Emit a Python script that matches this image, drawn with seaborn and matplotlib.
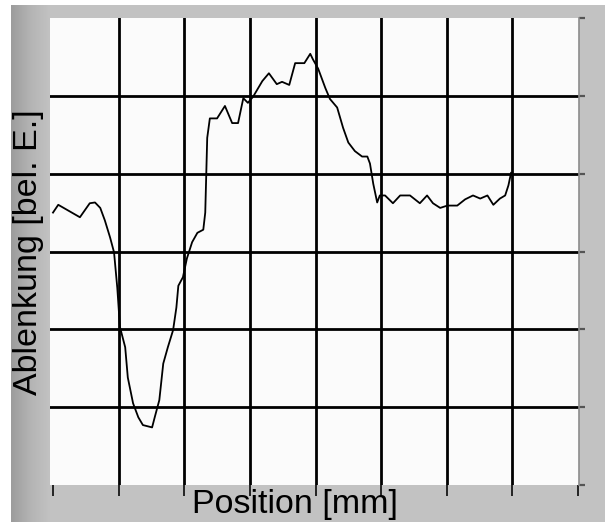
import numpy as np
import pandas as pd
import matplotlib
matplotlib.use("Agg")
import matplotlib.pyplot as plt
import seaborn as sns
from matplotlib.patches import Rectangle

# ---- data (grid units) ----
position = [0.00, 0.08, 0.41, 0.56, 0.64, 0.72, 0.79, 0.87, 0.93, 0.98,
            1.02, 1.10, 1.14, 1.22, 1.30, 1.37, 1.51, 1.55, 1.62, 1.68,
            1.75, 1.83, 1.88, 1.91, 1.98, 2.04, 2.12, 2.20, 2.29, 2.32,
            2.35, 2.39, 2.50, 2.62, 2.73, 2.82, 2.90, 2.97, 3.05, 3.19,
            3.29, 3.41, 3.49, 3.60, 3.69, 3.83, 3.92, 3.96, 4.04, 4.15,
            4.22, 4.33, 4.42, 4.50, 4.60, 4.71, 4.79, 4.83, 4.88, 4.94,
            4.98, 5.06, 5.18, 5.29, 5.44, 5.59, 5.70, 5.79, 5.90, 6.01,
            6.16, 6.28, 6.40, 6.51, 6.62, 6.71, 6.81, 6.89, 6.94, 6.98]
deflection = [3.50, 3.60, 3.44, 3.62, 3.63, 3.56, 3.40, 3.18, 2.99, 2.53,
              2.03, 1.77, 1.38, 1.05, 0.87, 0.77, 0.74, 0.87, 1.09, 1.56,
              1.77, 1.99, 2.28, 2.56, 2.67, 2.91, 3.12, 3.24, 3.28, 3.50,
              4.46, 4.71, 4.71, 4.87, 4.65, 4.65, 4.97, 4.91, 4.99, 5.19,
              5.29, 5.15, 5.18, 5.14, 5.42, 5.42, 5.54, 5.47, 5.35, 5.10,
              4.96, 4.85, 4.59, 4.40, 4.29, 4.22, 4.22, 4.13, 3.87, 3.63,
              3.72, 3.72, 3.62, 3.72, 3.72, 3.62, 3.72, 3.62, 3.56, 3.59,
              3.59, 3.67, 3.72, 3.68, 3.72, 3.60, 3.68, 3.72, 3.85, 4.01]
x_ticks = [0, 1, 2, 3, 4, 5, 6, 7, 8]
y_ticks = [0, 1, 2, 3, 4, 5, 6]
x_label = "Position [mm]"
y_label = "Ablenkung [bel. E.]"

df = pd.DataFrame({"pos": position, "val": deflection})

W, H = 605, 522
fig = plt.figure(figsize=(W / 100, H / 100), dpi=100)
fig.patch.set_facecolor("#c2c2c2")
plt.rcParams["font.family"] = ["Liberation Sans", "DejaVu Sans"]

# white outer margins (left strip and top strip)
fig.patches.append(Rectangle((0, 0), 11 / W, 1, transform=fig.transFigure,
                             facecolor="white", edgecolor="none", zorder=0))
fig.patches.append(Rectangle((0, 1 - 5 / H), 1, 5 / H, transform=fig.transFigure,
                             facecolor="white", edgecolor="none", zorder=0))
# left shaded gradient strip
gax = fig.add_axes([11 / W, 0, 39 / W, 1 - 5 / H])
grad = np.linspace(0.0, 1.0, 64)[None, :]
from matplotlib.colors import LinearSegmentedColormap
cmap = LinearSegmentedColormap.from_list("g", ["#9c9c9c", "#b4b4b4", "#c2c2c2"])
gax.imshow(grad, aspect="auto", cmap=cmap, extent=[0, 1, 0, 1])
gax.axis("off")

# main plot area
left_px, right_px, top_px, bot_px = 50, 579, 18, 485
ax = fig.add_axes([left_px / W, 1 - bot_px / H,
                   (right_px - left_px) / W, (bot_px - top_px) / H])
ax.set_facecolor("#fbfbfb")

for xv in x_ticks[1:-1]:
    ax.axvline(xv, color="black", lw=2.0, zorder=1)
for yv in y_ticks[1:-1]:
    ax.axhline(yv, color="black", lw=2.0, zorder=1)

sns.lineplot(data=df, x="pos", y="val", ax=ax, color="black", lw=1.3,
             estimator=None, sort=False, zorder=3)

ax.set_xlim(-3 / 65.6, 8 + 1 / 65.6)
ax.set_ylim(0, 6)
ax.set_xticks(x_ticks)
ax.set_yticks(y_ticks)
ax.set_xticklabels([])
ax.set_yticklabels([])
ax.tick_params(axis="x", direction="out", length=8, width=1.4, color="#222222",
               bottom=True, top=False)
ax.yaxis.tick_right()
ax.tick_params(axis="y", direction="out", length=4, width=1.6, color="#555555",
               right=True, left=False)
ax.set_xlabel("")
ax.set_ylabel("")
for s in ["top", "left", "bottom"]:
    ax.spines[s].set_visible(False)
ax.spines["right"].set_color("#8c8c8c")
ax.spines["right"].set_linewidth(1.2)

fig.text(295 / W, 1 - 504 / H, x_label, fontsize=24.5, color="black",
         ha="center", va="center", family=["Liberation Sans", "DejaVu Sans"])
fig.text(29 / W, 1 - 252 / H, y_label, fontsize=24.5, color="black",
         rotation=90, ha="center", va="center",
         family=["Liberation Sans", "DejaVu Sans"])

fig.savefig("out.png", dpi=100, facecolor=fig.get_facecolor())
